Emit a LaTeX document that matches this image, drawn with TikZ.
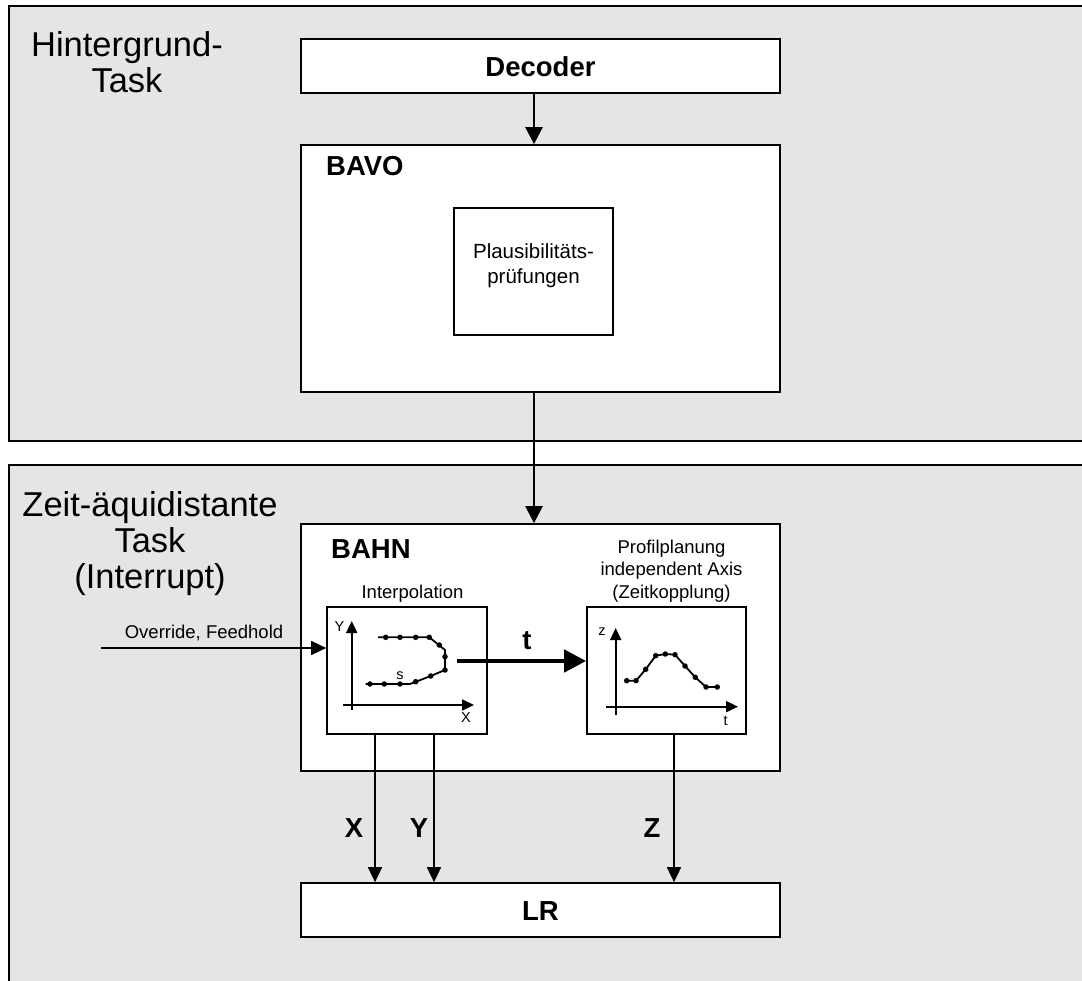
\documentclass[tikz,border=0pt]{standalone}
\usepackage{fontspec}
\setmainfont{Liberation Sans}
\usetikzlibrary{arrows.meta}
\definecolor{panel}{RGB}{229,229,229}
\begin{document}
\begin{tikzpicture}[x=1pt,y=-1pt,
  box/.style={draw, line width=1.7pt, fill=white, inner sep=0pt},
  arr/.style={line width=2.4pt, -{Triangle[length=17pt,width=17pt]}},
  sarr/.style={line width=1.7pt, -{Triangle[length=15pt,width=14pt]}},
  tarr/.style={line width=4.5pt, -{Triangle[length=22pt,width=22pt]}},
  axarr/.style={line width=1.9pt, -{Triangle[length=12pt,width=11pt]}},
  dotn/.style={circle, fill, inner sep=0pt, minimum size=5.5pt},
  bigtxt/.style={font=\fontsize{34.5}{36}\selectfont, align=center, inner sep=0pt},
  boldtxt/.style={font=\fontsize{27.5}{30}\selectfont\bfseries, inner sep=0pt},
  smalltxt/.style={font=\fontsize{18.5}{22.5}\selectfont, align=center, inner sep=0pt},
  tinytxt/.style={font=\fontsize{14.5}{16}\selectfont, inner sep=0pt},
  curve/.style={line width=1.8pt}
]
\useasboundingbox (0,0) rectangle (1082,981);
% panels
\fill[panel] (9,6) rectangle (1082,441);
\draw[line width=2pt] (1082,6) -- (9,6) -- (9,441) -- (1082,441);
\fill[panel] (9,465) rectangle (1082,981);
\draw[line width=2pt] (1082,465) -- (9,465) -- (9,981);
% panel titles
\node[bigtxt] (hint) at (127,62) {Hintergrund-\\Task};
\node[bigtxt] (zeit) at (150,544) {Zeit-äquidistante\\Task\\(Interrupt)};
% boxes
\node[box, minimum width=479pt, minimum height=54pt] (dec) at (540.5,66) {};
\node[boldtxt] (dectxt) at (540.5,67) {Decoder};
\node[box, minimum width=479pt, minimum height=247pt] (bavo) at (540.5,268.5) {};
\node[boldtxt, anchor=west] (bavotxt) at (326,166) {BAVO};
\node[box, minimum width=159pt, minimum height=127pt] (plaus) at (533.5,271.5) {};
\node[font=\fontsize{20.5}{25}\selectfont, align=center, inner sep=0pt] (plaustxt) at (533.5,266) {Plausibilitäts-\\prüfungen};
\node[box, minimum width=479pt, minimum height=247pt] (bahn) at (540.5,647.5) {};
\node[boldtxt, anchor=west] (bahntxt) at (331,549) {BAHN};
\node[box, minimum width=160pt, minimum height=127pt] (interp) at (407,670.5) {};
\node[smalltxt] (interptxt) at (412.5,594) {Interpolation};
\node[box, minimum width=159pt, minimum height=127pt] (prof) at (666.5,670.5) {};
\node[smalltxt] (proftxt) at (671.5,571) {Profilplanung\\independent Axis\\(Zeitkopplung)};
\node[box, minimum width=479pt, minimum height=54pt] (lr) at (540.5,910) {};
\node[boldtxt] (lrtxt) at (540.5,911) {LR};
% main arrows
\draw[arr] ([xshift=-6.5pt]dec.south) -- ([xshift=-6.5pt]bavo.north);
\draw[arr] ([xshift=-6.5pt]bavo.south) -- ([xshift=-6.5pt]bahn.north);
% override
\coordinate (ovs) at (101,648);
\node[smalltxt] (ovtxt) at (204,633) {Override, Feedhold};
\draw[sarr] (ovs) -- (interp.west |- ovs);
% t arrow
\coordinate (tst) at (457,661);
\draw[tarr] (tst) -- (prof.west |- tst);
\node[boldtxt] (ttxt) at (527,641) {t};
% outputs
\coordinate (xa) at (375,0);
\coordinate (ya) at (434,0);
\coordinate (za) at (674,0);
\draw[sarr] (interp.south -| xa) -- (lr.north -| xa);
\draw[sarr] (interp.south -| ya) -- (lr.north -| ya);
\draw[sarr] (prof.south -| za) -- (lr.north -| za);
\node[boldtxt] (xl) at (354,828) {X};
\node[boldtxt] (yl) at (419,828) {Y};
\node[boldtxt] (zl) at (652,828) {Z};
% interpolation graph
\draw[axarr] (351.7,710) -- (351.7,621);
\draw[axarr] (343,705) -- (474,705);
\node[tinytxt] (gy) at (339.5,627) {Y};
\node[tinytxt] (gx) at (466,718) {X};
\node[tinytxt] (gs) at (400,676) {s};
\draw[curve] (365.7,684) -- (410,684) -- (430.7,676) -- (445,670) -- (445,650) -- (429.3,637.3) -- (378,637.3);
\foreach \p in {(370,684),(384.3,684),(400,684),(415.7,681.7),(430.7,676),(445,670),(445,656.7),(439.3,645),(429.3,637.3),(415.7,637.3),(400,637.3),(385.7,637.3)}
  \node[dotn] at \p {};
% profile graph
\draw[axarr] (615.7,715) -- (615.7,628);
\draw[axarr] (606,706.7) -- (738,706.7);
\node[tinytxt] (gz) at (602,632) {z};
\node[tinytxt] (gt) at (725.7,721) {t};
\draw[curve] (626.7,680.7) -- (636,680.7) -- (645.7,669.3) -- (655.7,655.7) -- (665.3,654) -- (675,654.7) -- (685,666) -- (695.3,677.3) -- (706,687) -- (717.3,687);
\foreach \p in {(626.7,680.7),(636,680.7),(645.7,669.3),(655.7,655.7),(665.3,654),(675,654.7),(685,666),(695.3,677.3),(706,687),(717.3,687)}
  \node[dotn] at \p {};
\end{tikzpicture}
\end{document}
